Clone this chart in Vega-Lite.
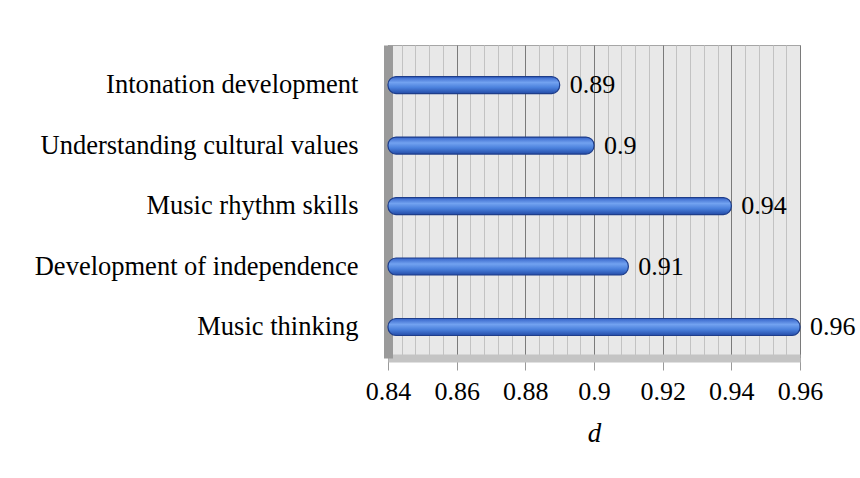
{
  "$schema": "https://vega.github.io/schema/vega-lite/v6.json",
  "width": 412,
  "height": 313,
  "autosize": {"type": "none"},
  "padding": {"left": 388, "top": 45, "right": 60, "bottom": 120},
  "background": "white",
  "data": {"values": [
    {"skill": "Intonation development", "d": 0.89},
    {"skill": "Understanding cultural values", "d": 0.9},
    {"skill": "Music rhythm skills", "d": 0.94},
    {"skill": "Development of independence", "d": 0.91},
    {"skill": "Music thinking", "d": 0.96}
  ]},
  "config": {
    "view": {"fill": "#e8e8e8", "stroke": "#a6a6a6", "strokeWidth": 1},
    "font": "Liberation Serif"
  },
  "encoding": {
    "y": {
      "field": "skill", "type": "nominal", "sort": null,
      "scale": {"paddingInner": 0, "paddingOuter": 0.087, "align": 0.93},
      "axis": {
        "title": null, "ticks": false, "labelFont": "Liberation Serif", "labelFontSize": 26.5,
        "labelColor": "black", "labelPadding": 30, "labelLimit": 400,
        "domainWidth": 9, "domainColor": "#9a9a9a", "grid": false
      }
    },
    "x": {
      "field": "d", "type": "quantitative",
      "scale": {"domain": [0.84, 0.96], "zero": false, "nice": false},
      "axis": {
        "title": "d", "titleFont": "Liberation Serif", "titleFontStyle": "italic", "titleFontWeight": "normal",
        "titleFontSize": 27, "titleColor": "black", "titlePadding": 16,
        "values": [0.84,0.844,0.848,0.852,0.856,0.86,0.864,0.868,0.872,0.876,0.88,0.884,0.888,0.892,0.896,0.9,0.904,0.908,0.912,0.916,0.92,0.924,0.928,0.932,0.936,0.94,0.944,0.948,0.952,0.956,0.96],
        "labelExpr": "abs(datum.value*50 - round(datum.value*50)) < 0.01 ? format(datum.value, '.2~f') : ''",
        "labelFont": "Liberation Serif", "labelFontSize": 26, "labelColor": "black",
        "labelPadding": 8, "labelOverlap": false, "labelFlush": false,
        "tickSize": 12, "tickColor": "#9a9a9a",
        "tickOpacity": {"condition": {"test": "abs(datum.value*50 - round(datum.value*50)) < 0.01", "value": 1}, "value": 0},
        "domainWidth": 8, "domainColor": "#c4c4c4",
        "grid": true,
        "gridColor": {"condition": {"test": "abs(datum.value*50 - round(datum.value*50)) < 0.01", "value": "#7a7a7a"}, "value": "#c2c2c2"},
        "gridWidth": 1
      }
    }
  },
  "layer": [
    {
      "mark": {
        "type": "bar", "size": 17, "cornerRadiusEnd": 8, "stroke": "#1e3d8a", "strokeWidth": 1.2,
        "color": {"x1": 0, "y1": 0, "x2": 0, "y2": 1, "gradient": "linear",
          "stops": [
            {"offset": 0, "color": "#3462c8"},
            {"offset": 0.35, "color": "#72a2f0"},
            {"offset": 0.65, "color": "#4a80dc"},
            {"offset": 1, "color": "#244ca8"}
          ]}
      },
      "encoding": {"x2": {"datum": 0.84}}
    },
    {
      "mark": {"type": "text", "align": "left", "dx": 10, "fontSize": 26, "font": "Liberation Serif", "color": "black"},
      "encoding": {"text": {"field": "d", "type": "quantitative", "format": ".2~f"}}
    }
  ]
}
